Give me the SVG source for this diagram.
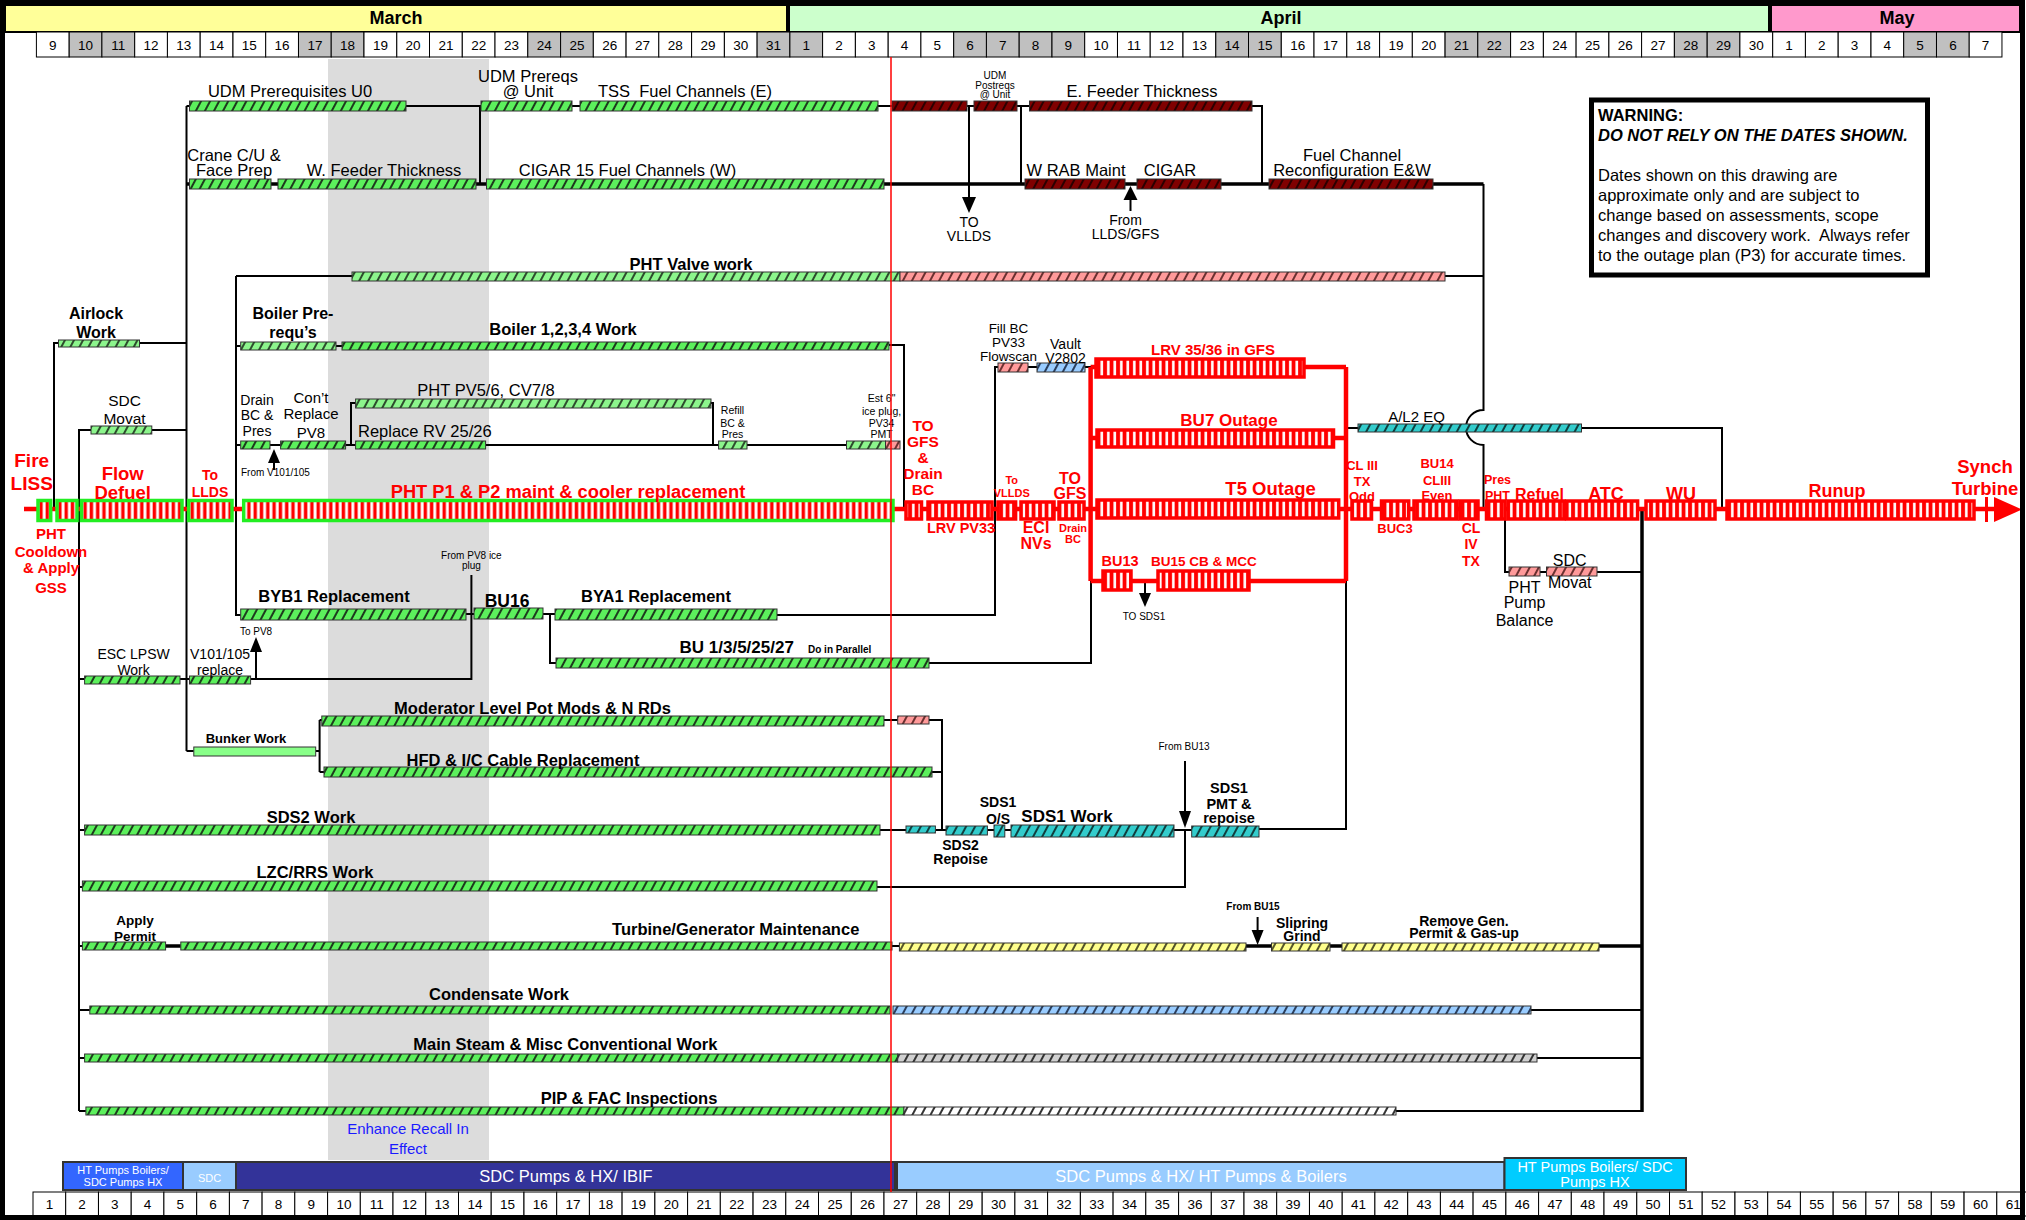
<svg xmlns="http://www.w3.org/2000/svg" width="2026" height="1220" viewBox="0 0 2026 1220">
<defs>
<pattern id="hg" width="8" height="8" patternUnits="userSpaceOnUse" patternTransform="rotate(28)"><rect width="8" height="8" fill="#5cf05c"/><rect width="2" height="8" fill="#1d3b1d"/></pattern>
<pattern id="hl" width="8" height="8" patternUnits="userSpaceOnUse" patternTransform="rotate(28)"><rect width="8" height="8" fill="#8cf58c"/><rect width="2" height="8" fill="#2d4d2d"/></pattern>
<pattern id="hd" width="8" height="8" patternUnits="userSpaceOnUse" patternTransform="rotate(28)"><rect width="8" height="8" fill="#800000"/><rect width="2" height="8" fill="#2b0000"/></pattern>
<pattern id="hp" width="8" height="8" patternUnits="userSpaceOnUse" patternTransform="rotate(28)"><rect width="8" height="8" fill="#ff9a9a"/><rect width="2" height="8" fill="#6b3030"/></pattern>
<pattern id="hb" width="8" height="8" patternUnits="userSpaceOnUse" patternTransform="rotate(28)"><rect width="8" height="8" fill="#99ccff"/><rect width="2" height="8" fill="#2b3f5e"/></pattern>
<pattern id="ht" width="8" height="8" patternUnits="userSpaceOnUse" patternTransform="rotate(28)"><rect width="8" height="8" fill="#33cccc"/><rect width="2" height="8" fill="#0f3f3f"/></pattern>
<pattern id="hy" width="8" height="8" patternUnits="userSpaceOnUse" patternTransform="rotate(28)"><rect width="8" height="8" fill="#ffff8c"/><rect width="2" height="8" fill="#55552a"/></pattern>
<pattern id="hgr" width="8" height="8" patternUnits="userSpaceOnUse" patternTransform="rotate(28)"><rect width="8" height="8" fill="#d0d0d0"/><rect width="2" height="8" fill="#333"/></pattern>
<pattern id="hw" width="8" height="8" patternUnits="userSpaceOnUse" patternTransform="rotate(28)"><rect width="8" height="8" fill="#ffffff"/><rect width="2" height="8" fill="#333"/></pattern>
<pattern id="lr" width="6.5" height="40" patternUnits="userSpaceOnUse"><rect width="6.5" height="40" fill="#ff0000"/><rect x="2" width="2.6" height="40" fill="#ffffff"/></pattern>
<pattern id="lg" width="6.3" height="40" patternUnits="userSpaceOnUse"><rect width="6.3" height="40" fill="#ffffff"/><rect x="1.5" width="3.4" height="40" fill="#ff0000"/></pattern>
</defs>
<style>
text{font-family:"Liberation Sans",Arial,Helvetica,sans-serif;fill:#000}
.m{text-anchor:middle}
.b{font-weight:bold}
.r{font-weight:bold;fill:#ff0000;text-anchor:middle}
.w{fill:#ffffff;text-anchor:middle}
.c{stroke:#000;stroke-width:2;fill:none}
.ck{stroke:#000;stroke-width:3.5;fill:none}
.rl{stroke:#ff0000;stroke-width:4.5;fill:none}
.bar{stroke:#333;stroke-width:1}
.gb{fill:url(#lg);stroke:#22ee22;stroke-width:3.5}
.rb{fill:url(#lr);stroke:#ff0000;stroke-width:3.5}
.cw{fill:#ffffff;stroke:#000;stroke-width:1}
.cg{fill:#c0c0c0;stroke:#000;stroke-width:1}
.d{font-size:13.5px;text-anchor:middle}
.hg{fill:url(#hg)}.hl{fill:url(#hl)}.hd{fill:url(#hd)}.hp{fill:url(#hp)}.hb{fill:url(#hb)}.ht{fill:url(#ht)}.hy{fill:url(#hy)}.hgr{fill:url(#hgr)}.hw{fill:url(#hw)}
</style>
<rect x="0" y="0" width="2026" height="1220" fill="#ffffff"/>
<rect x="328" y="59" width="161" height="1101" fill="#dcdcdc"/>

<g id="header">
<rect x="5" y="5" width="783" height="27" fill="#ffff99" stroke="#000" stroke-width="2"/>
<rect x="788" y="5" width="982" height="27" fill="#ccffcc" stroke="#000" stroke-width="2"/>
<rect x="1770" y="5" width="250" height="27" fill="#ff99cc" stroke="#000" stroke-width="2"/>
<line x1="788" y1="4" x2="788" y2="32" stroke="#000" stroke-width="4"/>
<line x1="1770" y1="4" x2="1770" y2="32" stroke="#000" stroke-width="4"/>
<text x="396" y="24" class="m b" font-size="18">March</text>
<text x="1281" y="24" class="m b" font-size="18">April</text>
<text x="1897" y="24" class="m b" font-size="18">May</text>
<g id="topdays">
<rect x="36.4" y="32" width="32.76" height="25" class="cw"/><text x="52.8" y="49.5" class="d">9</text>
<rect x="69.2" y="32" width="32.76" height="25" class="cg"/><text x="85.5" y="49.5" class="d">10</text>
<rect x="101.9" y="32" width="32.76" height="25" class="cg"/><text x="118.3" y="49.5" class="d">11</text>
<rect x="134.7" y="32" width="32.76" height="25" class="cw"/><text x="151.1" y="49.5" class="d">12</text>
<rect x="167.4" y="32" width="32.76" height="25" class="cw"/><text x="183.8" y="49.5" class="d">13</text>
<rect x="200.2" y="32" width="32.76" height="25" class="cw"/><text x="216.6" y="49.5" class="d">14</text>
<rect x="233" y="32" width="32.76" height="25" class="cw"/><text x="249.3" y="49.5" class="d">15</text>
<rect x="265.7" y="32" width="32.76" height="25" class="cw"/><text x="282.1" y="49.5" class="d">16</text>
<rect x="298.5" y="32" width="32.76" height="25" class="cg"/><text x="314.9" y="49.5" class="d">17</text>
<rect x="331.2" y="32" width="32.76" height="25" class="cg"/><text x="347.6" y="49.5" class="d">18</text>
<rect x="364" y="32" width="32.76" height="25" class="cw"/><text x="380.4" y="49.5" class="d">19</text>
<rect x="396.8" y="32" width="32.76" height="25" class="cw"/><text x="413.1" y="49.5" class="d">20</text>
<rect x="429.5" y="32" width="32.76" height="25" class="cw"/><text x="445.9" y="49.5" class="d">21</text>
<rect x="462.3" y="32" width="32.76" height="25" class="cw"/><text x="478.7" y="49.5" class="d">22</text>
<rect x="495" y="32" width="32.76" height="25" class="cw"/><text x="511.4" y="49.5" class="d">23</text>
<rect x="527.8" y="32" width="32.76" height="25" class="cg"/><text x="544.2" y="49.5" class="d">24</text>
<rect x="560.6" y="32" width="32.76" height="25" class="cg"/><text x="576.9" y="49.5" class="d">25</text>
<rect x="593.3" y="32" width="32.76" height="25" class="cw"/><text x="609.7" y="49.5" class="d">26</text>
<rect x="626.1" y="32" width="32.76" height="25" class="cw"/><text x="642.5" y="49.5" class="d">27</text>
<rect x="658.8" y="32" width="32.76" height="25" class="cw"/><text x="675.2" y="49.5" class="d">28</text>
<rect x="691.6" y="32" width="32.76" height="25" class="cw"/><text x="708" y="49.5" class="d">29</text>
<rect x="724.4" y="32" width="32.76" height="25" class="cw"/><text x="740.7" y="49.5" class="d">30</text>
<rect x="757.1" y="32" width="32.76" height="25" class="cg"/><text x="773.5" y="49.5" class="d">31</text>
<rect x="789.9" y="32" width="32.76" height="25" class="cg"/><text x="806.3" y="49.5" class="d">1</text>
<rect x="822.6" y="32" width="32.76" height="25" class="cw"/><text x="839" y="49.5" class="d">2</text>
<rect x="855.4" y="32" width="32.76" height="25" class="cw"/><text x="871.8" y="49.5" class="d">3</text>
<rect x="888.2" y="32" width="32.76" height="25" class="cw"/><text x="904.5" y="49.5" class="d">4</text>
<rect x="920.9" y="32" width="32.76" height="25" class="cw"/><text x="937.3" y="49.5" class="d">5</text>
<rect x="953.7" y="32" width="32.76" height="25" class="cg"/><text x="970.1" y="49.5" class="d">6</text>
<rect x="986.4" y="32" width="32.76" height="25" class="cg"/><text x="1002.8" y="49.5" class="d">7</text>
<rect x="1019.2" y="32" width="32.76" height="25" class="cg"/><text x="1035.6" y="49.5" class="d">8</text>
<rect x="1052" y="32" width="32.76" height="25" class="cg"/><text x="1068.3" y="49.5" class="d">9</text>
<rect x="1084.7" y="32" width="32.76" height="25" class="cw"/><text x="1101.1" y="49.5" class="d">10</text>
<rect x="1117.5" y="32" width="32.76" height="25" class="cw"/><text x="1133.9" y="49.5" class="d">11</text>
<rect x="1150.2" y="32" width="32.76" height="25" class="cw"/><text x="1166.6" y="49.5" class="d">12</text>
<rect x="1183" y="32" width="32.76" height="25" class="cw"/><text x="1199.4" y="49.5" class="d">13</text>
<rect x="1215.8" y="32" width="32.76" height="25" class="cg"/><text x="1232.1" y="49.5" class="d">14</text>
<rect x="1248.5" y="32" width="32.76" height="25" class="cg"/><text x="1264.9" y="49.5" class="d">15</text>
<rect x="1281.3" y="32" width="32.76" height="25" class="cw"/><text x="1297.7" y="49.5" class="d">16</text>
<rect x="1314" y="32" width="32.76" height="25" class="cw"/><text x="1330.4" y="49.5" class="d">17</text>
<rect x="1346.8" y="32" width="32.76" height="25" class="cw"/><text x="1363.2" y="49.5" class="d">18</text>
<rect x="1379.6" y="32" width="32.76" height="25" class="cw"/><text x="1395.9" y="49.5" class="d">19</text>
<rect x="1412.3" y="32" width="32.76" height="25" class="cw"/><text x="1428.7" y="49.5" class="d">20</text>
<rect x="1445.1" y="32" width="32.76" height="25" class="cg"/><text x="1461.5" y="49.5" class="d">21</text>
<rect x="1477.8" y="32" width="32.76" height="25" class="cg"/><text x="1494.2" y="49.5" class="d">22</text>
<rect x="1510.6" y="32" width="32.76" height="25" class="cw"/><text x="1527" y="49.5" class="d">23</text>
<rect x="1543.4" y="32" width="32.76" height="25" class="cw"/><text x="1559.7" y="49.5" class="d">24</text>
<rect x="1576.1" y="32" width="32.76" height="25" class="cw"/><text x="1592.5" y="49.5" class="d">25</text>
<rect x="1608.9" y="32" width="32.76" height="25" class="cw"/><text x="1625.3" y="49.5" class="d">26</text>
<rect x="1641.6" y="32" width="32.76" height="25" class="cw"/><text x="1658" y="49.5" class="d">27</text>
<rect x="1674.4" y="32" width="32.76" height="25" class="cg"/><text x="1690.8" y="49.5" class="d">28</text>
<rect x="1707.2" y="32" width="32.76" height="25" class="cg"/><text x="1723.5" y="49.5" class="d">29</text>
<rect x="1739.9" y="32" width="32.76" height="25" class="cw"/><text x="1756.3" y="49.5" class="d">30</text>
<rect x="1772.7" y="32" width="32.76" height="25" class="cw"/><text x="1789.1" y="49.5" class="d">1</text>
<rect x="1805.4" y="32" width="32.76" height="25" class="cw"/><text x="1821.8" y="49.5" class="d">2</text>
<rect x="1838.2" y="32" width="32.76" height="25" class="cw"/><text x="1854.6" y="49.5" class="d">3</text>
<rect x="1871" y="32" width="32.76" height="25" class="cw"/><text x="1887.3" y="49.5" class="d">4</text>
<rect x="1903.7" y="32" width="32.76" height="25" class="cg"/><text x="1920.1" y="49.5" class="d">5</text>
<rect x="1936.5" y="32" width="32.76" height="25" class="cg"/><text x="1952.9" y="49.5" class="d">6</text>
<rect x="1969.2" y="32" width="32.76" height="25" class="cw"/><text x="1985.6" y="49.5" class="d">7</text>
</g>
</g>

<g id="connectors">
<path class="c" d="M186.5,106V751M186.5,106H189.5M406,106H481M480,106V184M572,106H580M878,106H892M967,106H974M1017,106H1029.5M1252,106H1262V184M1021,106V184M969,106V199"/>
<polygon points="962,197 976,197 969,213" fill="#000"/>
<path class="ck" d="M186.5,184H189.5M271,184H278M476,184H486.5M884,184H1025M1125,184H1137M1221,184H1269M1433,184H1483.5"/>
<path class="c" d="M1483.5,184V410A17.5,17.5 0 0 0 1483.5,445V509"/>
<path class="c" d="M1130.5,199V211"/>
<polygon points="1130.5,186 1123.5,200 1137.5,200" fill="#000"/>
<path class="c" d="M236,276H352M236,276V615H240.7M1445,276H1483.5M54,509V343H58.5M139.6,343H186.5M236,346H240.7M336,346H342M889,345H904V509M355.6,403H351V445M711,403H713V445M236,445H240.7M270,445H280.6M345.6,445H355.6M485.7,445H718.6M747,445H846.5"/>
<path class="c" d="M274,462V470"/>
<polygon points="274,449 268,463 280,463" fill="#000"/>
<path class="c" d="M79,1111V430H91M151.8,430H186.5M466,614H474M543,614H555M550,614V663H556M471.4,575V679H250.6M180,679H189.5M79,679H84.6M256,679V651"/>
<polygon points="256,637 250,652 262,652" fill="#000"/>
<path class="c" d="M186.5,751H193.8M315.7,751H319.6M319.6,720V772M319.6,720H321.8M319.6,772H324M884,720H897.7M929,720H942V830M932,772H942M79,830H84.6M880,830H906M935.4,830H946M987.4,830H994M1004.8,830H1011M1174,830H1191.7M1259,829H1346V581"/>
<path class="c" d="M1185,761V812M1185,830V887H877M79,887H82.4"/>
<polygon points="1179,811 1191,811 1185,828" fill="#000"/>
<path class="c" d="M79,946H82.4M892,946H899.4M79,1010H89.8M1531,1010H1642M79,1058H84.6M1537,1058H1642M79,1111H85.9M1396,1111H1642"/>
<path class="ck" d="M165.6,946H180.8M1246,946H1271.5M1330,946H1342M1599,946H1642"/>
<path class="c" d="M1257.6,917V931"/>
<polygon points="1251.6,930 1263.6,930 1257.6,945" fill="#000"/>
<path class="ck" d="M1642,509V1112"/>
<path class="c" d="M777,615H995V367H998M1028,367H1037M1085,367H1096M929,663H1091V581M1145,581V594"/>
<polygon points="1139,593 1151,593 1145,607" fill="#000"/>
<path class="c" d="M1346,428H1358M1581.5,428H1722V509M1505,509V572H1509M1540,572H1546.5M1597,572H1642"/>
<path class="rl" d="M24,509H1996" stroke-width="5"/>
<path class="rl" d="M1090.6,367V581M1346,367V581M1090.6,367H1346M1090.6,438H1346M1090.6,581H1346"/>
<polygon points="1994,497 2022,509.5 1994,522" fill="#ff0000"/>
<path d="M1986.5,497V522" stroke="#ff0000" stroke-width="3"/>
</g>

<g id="n-udm-prereq"><rect x="189.5" y="101" width="216.5" height="10" class="bar hg"/><text x="290" y="97" class="m" font-size="16.5">UDM Prerequisites U0</text></g>
<g id="n-udm-unit"><rect x="481" y="101" width="91" height="10" class="bar hg"/><text x="528" y="82" class="m" font-size="16.5">UDM Prereqs</text><text x="528" y="97" class="m" font-size="16.5">@ Unit</text></g>
<g id="n-tss"><rect x="580" y="101" width="298" height="10" class="bar hg"/><text x="685" y="97" class="m" font-size="16.5">TSS&#160; Fuel Channels (E)</text></g>
<g id="n-tss-2"><rect x="892" y="101" width="75" height="10" class="bar hd"/></g>
<g id="n-udm-post"><rect x="974" y="101" width="43" height="10" class="bar hd"/><text x="995" y="79" class="m" font-size="10">UDM</text><text x="995" y="89" class="m" font-size="10">Postreqs</text><text x="995" y="98" class="m" font-size="10">@ Unit</text></g>
<g id="n-efeeder"><rect x="1029.5" y="101" width="222.5" height="10" class="bar hd"/><text x="1142" y="97" class="m" font-size="16.5">E. Feeder Thickness</text></g>
<g id="n-to-vllds"><text x="969" y="227" class="m" font-size="14">TO</text><text x="969" y="241" class="m" font-size="14">VLLDS</text></g>
<g id="n-crane"><rect x="189.5" y="179" width="81.5" height="10" class="bar hg"/><text x="234" y="161" class="m" font-size="16.5">Crane C/U &amp;</text><text x="234" y="176" class="m" font-size="16.5">Face Prep</text></g>
<g id="n-wfeeder"><rect x="278" y="179" width="198" height="10" class="bar hg"/><text x="384" y="176" class="m" font-size="16.5">W. Feeder Thickness</text></g>
<g id="n-cigar15"><rect x="486.5" y="179" width="397.5" height="10" class="bar hg"/><text x="627.5" y="176" class="m" font-size="16.5">CIGAR 15 Fuel Channels (W)</text></g>
<g id="n-wrab"><rect x="1025" y="179" width="100" height="10" class="bar hd"/><text x="1076" y="176" class="m" font-size="16.5">W RAB Maint</text></g>
<g id="n-cigar"><rect x="1137" y="179" width="84" height="10" class="bar hd"/><text x="1170" y="176" class="m" font-size="16.5">CIGAR</text></g>
<g id="n-from-llds"><text x="1125.5" y="225" class="m" font-size="14">From</text><text x="1125.5" y="238.5" class="m" font-size="14">LLDS/GFS</text></g>
<g id="n-fcr"><rect x="1269" y="179" width="164" height="10" class="bar hd"/><text x="1352" y="161" class="m" font-size="16.5">Fuel Channel</text><text x="1352" y="176" class="m" font-size="16.5">Reconfiguration E&amp;W</text></g>
<g id="n-warning"><rect x="1591.5" y="100" width="336" height="175" fill="#fff" stroke="#000" stroke-width="5"/>
<text x="1598" y="121" class="b" font-size="16.5">WARNING:</text>
<text x="1598" y="140.5" class="b" font-size="16.5" font-style="italic">DO NOT RELY ON THE DATES SHOWN.</text>
<text x="1598" y="181" font-size="16.5">Dates shown on this drawing are</text>
<text x="1598" y="201" font-size="16.5">approximate only and are subject to</text>
<text x="1598" y="220.5" font-size="16.5">change based on assessments, scope</text>
<text x="1598" y="241" font-size="16.5">changes and discovery work.&#160; Always refer</text>
<text x="1598" y="261" font-size="16.5">to the outage plan (P3) for accurate times.</text></g>
<g id="n-pht-valve"><rect x="352" y="272" width="548" height="9" class="bar hl"/><rect x="900" y="272" width="545" height="9" class="bar hp"/><text x="691" y="270" class="m b" font-size="16.5">PHT Valve work</text></g>
<g id="n-airlock"><rect x="58.5" y="340" width="81" height="7" class="bar hl"/><text x="96" y="319" class="m b" font-size="16">Airlock</text><text x="96" y="338" class="m b" font-size="16">Work</text></g>
<g id="n-boiler-pre"><rect x="240.7" y="342" width="95.3" height="8" class="bar hl"/><text x="293" y="319" class="m b" font-size="16">Boiler Pre-</text><text x="293" y="338" class="m b" font-size="16">requ’s</text></g>
<g id="n-boiler"><rect x="342" y="342" width="547" height="8" class="bar hg"/><text x="563" y="335" class="m b" font-size="16.5">Boiler 1,2,3,4 Work</text></g>
<g id="n-sdc-movat"><rect x="91" y="426" width="60.8" height="8" class="bar hl"/><text x="124.5" y="406" class="m" font-size="15.5">SDC</text><text x="124.5" y="424" class="m" font-size="15.5">Movat</text></g>
<g id="n-pv56"><rect x="355.6" y="399" width="355.4" height="9" class="bar hl"/><text x="486" y="396" class="m" font-size="16.5">PHT PV5/6, CV7/8</text></g>
<g id="n-drain"><rect x="240.7" y="441" width="29.3" height="8" class="bar hg"/><text x="257" y="405" class="m" font-size="14">Drain</text><text x="257" y="420" class="m" font-size="14">BC &amp;</text><text x="257" y="436" class="m" font-size="14">Pres</text></g>
<g id="n-pv8"><rect x="280.6" y="441" width="65" height="8" class="bar hg"/><text x="311" y="403" class="m" font-size="15">Con’t</text><text x="311" y="419" class="m" font-size="15">Replace</text><text x="311" y="438" class="m" font-size="15">PV8</text></g>
<g id="n-from-v101"><text x="241" y="476" font-size="10">From V101/105</text></g>
<g id="n-rv2526"><rect x="355.6" y="441" width="130" height="8" class="bar hg"/><text x="358" y="437" font-size="16.5">Replace RV 25/26</text></g>
<g id="n-refill"><rect x="718.6" y="441" width="28.4" height="8" class="bar hl"/><text x="732.5" y="414" class="m" font-size="10.5">Refill</text><text x="732.5" y="426.5" class="m" font-size="10.5">BC &amp;</text><text x="732.5" y="438" class="m" font-size="10.5">Pres</text></g>
<g id="n-est6"><rect x="846.5" y="441" width="39" height="8" class="bar hl"/><rect x="885.5" y="441" width="14.5" height="8" class="bar hp"/><text x="881.6" y="402" class="m" font-size="10.5">Est 6"</text><text x="881.6" y="414.5" class="m" font-size="10.5">ice plug,</text><text x="881.6" y="426.5" class="m" font-size="10.5">PV34</text><text x="881.6" y="438" class="m" font-size="10.5">PMT</text></g>

<g id="n-fire"><rect x="38" y="500.5" width="12.7" height="20" class="gb"/><text x="31.7" y="467" class="r" font-size="19">Fire</text><text x="31.7" y="490" class="r" font-size="19">LISS</text></g>
<g id="n-cooldown"><rect x="57" y="500.5" width="20" height="20" class="gb"/><text x="51" y="539" class="r" font-size="15">PHT</text><text x="51" y="556.5" class="r" font-size="15">Cooldown</text><text x="51" y="573" class="r" font-size="15">&amp; Apply</text><text x="51" y="593" class="r" font-size="15">GSS</text></g>
<g id="n-defuel"><rect x="81.5" y="500.5" width="100.5" height="20" class="gb"/><text x="122.7" y="480" class="r" font-size="18.5">Flow</text><text x="122.7" y="498.5" class="r" font-size="18.5">Defuel</text></g>
<g id="n-to-llds"><rect x="188.6" y="500.5" width="43.4" height="20" class="gb"/><text x="210" y="480" class="r" font-size="14">To</text><text x="210" y="496.5" class="r" font-size="14">LLDS</text></g>
<g id="n-pht-p1p2"><rect x="243.7" y="500.5" width="649.3" height="20" class="gb"/><text x="568" y="498" class="r" font-size="18.3">PHT P1 &amp; P2 maint &amp; cooler replacement</text></g>
<g id="n-gfs1"><rect x="906" y="502" width="15.5" height="17" class="rb"/><text x="923" y="430.5" class="r" font-size="15.5">TO</text><text x="923" y="447" class="r" font-size="15.5">GFS</text><text x="923" y="462.5" class="r" font-size="15.5">&amp;</text><text x="923" y="478.5" class="r" font-size="15.5">Drain</text><text x="923" y="494.5" class="r" font-size="15.5">BC</text></g>
<g id="n-lrv-pv33"><rect x="928" y="502" width="64" height="17" class="rb"/><text x="961" y="533" class="r" font-size="14.5">LRV PV33</text></g>
<g id="n-to-vllds2"><rect x="998" y="502" width="17.6" height="17" class="rb"/><text x="1011.7" y="484" class="r" font-size="11">To</text><text x="1011.7" y="496.5" class="r" font-size="11">VLLDS</text></g>
<g id="n-eci"><rect x="1021" y="502" width="33" height="17" class="rb"/><text x="1036" y="533" class="r" font-size="16">ECI</text><text x="1036" y="548.5" class="r" font-size="16">NVs</text></g>
<g id="n-gfs2"><rect x="1059" y="502" width="25" height="17" class="rb"/><text x="1070" y="484" class="r" font-size="16">TO</text><text x="1070" y="499" class="r" font-size="16">GFS</text><text x="1073" y="531.5" class="r" font-size="11">Drain</text><text x="1073" y="543" class="r" font-size="11">BC</text></g>
<g id="n-fill-bc"><rect x="998" y="363" width="30" height="9" class="bar hp"/><text x="1008.5" y="333" class="m" font-size="13.5">Fill BC</text><text x="1008.5" y="347" class="m" font-size="13.5">PV33</text><text x="1008.5" y="360.5" class="m" font-size="13.5">Flowscan</text></g>
<g id="n-vault"><rect x="1037" y="363" width="48" height="9" class="bar hb"/><text x="1065.5" y="349" class="m" font-size="14">Vault</text><text x="1065.5" y="363" class="m" font-size="14">V2802</text></g>
<g id="n-lrv3536"><rect x="1096" y="359" width="208" height="18" class="rb"/><text x="1213" y="355" class="r" font-size="15">LRV 35/36 in GFS</text></g>
<g id="n-bu7"><rect x="1097" y="430" width="236.5" height="17" class="rb"/><text x="1229" y="426" class="r" font-size="17">BU7 Outage</text></g>
<g id="n-t5"><rect x="1097" y="500" width="241.7" height="18" class="rb"/><text x="1270.6" y="495" class="r" font-size="18.5">T5 Outage</text></g>
<g id="n-bu13"><rect x="1103" y="571" width="28" height="19" class="rb"/><text x="1120" y="566" class="r" font-size="14.5">BU13</text></g>
<g id="n-bu15"><rect x="1158" y="571" width="91" height="19" class="rb"/><text x="1204" y="566" class="r" font-size="13.5">BU15 CB &amp; MCC</text></g>
<g id="n-to-sds1"><text x="1144" y="620" class="m" font-size="10">TO SDS1</text></g>
<g id="n-al2"><rect x="1358" y="424" width="223.5" height="8" class="bar ht"/><text x="1416.5" y="421.5" class="m" font-size="15">A/L2 EQ</text></g>
<g id="n-cl3"><rect x="1352" y="501" width="19.5" height="18" class="rb"/><text x="1362" y="470" class="r" font-size="13">CL III</text><text x="1362" y="486" class="r" font-size="13">TX</text><text x="1362" y="501" class="r" font-size="13">Odd</text></g>
<g id="n-buc3"><rect x="1381.5" y="501" width="27.2" height="18" class="rb"/><text x="1395" y="533" class="r" font-size="13">BUC3</text></g>
<g id="n-bu14"><rect x="1414" y="501" width="43" height="18" class="rb"/><text x="1437" y="468" class="r" font-size="13">BU14</text><text x="1437" y="485" class="r" font-size="13">CLIII</text><text x="1437" y="500" class="r" font-size="13">Even</text></g>
<g id="n-cl4"><rect x="1460" y="501" width="18" height="18" class="rb"/><text x="1471" y="533" class="r" font-size="14">CL</text><text x="1471" y="549" class="r" font-size="14">IV</text><text x="1471" y="565.5" class="r" font-size="14">TX</text></g>
<g id="n-pres"><rect x="1486.5" y="501" width="18.5" height="18" class="rb"/><text x="1497.5" y="484" class="r" font-size="12.5">Pres</text><text x="1497.5" y="500" class="r" font-size="12.5">PHT</text></g>
<g id="n-refuel"><rect x="1508" y="501" width="56" height="18" class="rb"/><text x="1539.5" y="500" class="r" font-size="16">Refuel</text></g>
<g id="n-atc"><rect x="1566.6" y="501" width="71" height="18" class="rb"/><text x="1606" y="500" class="r" font-size="18">ATC</text></g>
<g id="n-wu"><rect x="1646" y="501" width="69" height="18" class="rb"/><text x="1681" y="500" class="r" font-size="18">WU</text></g>
<g id="n-runup"><rect x="1727" y="501" width="247" height="18" class="rb"/><text x="1837" y="497" class="r" font-size="18">Runup</text></g>
<g id="n-synch"><text x="1985" y="473" class="r" font-size="18.5">Synch</text><text x="1985" y="495" class="r" font-size="18.5">Turbine</text></g>
<g id="n-pump-bal"><rect x="1509" y="567" width="31" height="9" class="bar hp"/><text x="1524.6" y="592.5" class="m" font-size="16">PHT</text><text x="1524.6" y="608" class="m" font-size="16">Pump</text><text x="1524.6" y="626" class="m" font-size="16">Balance</text></g>
<g id="n-sdc-movat2"><rect x="1546.5" y="567" width="50.5" height="9" class="bar hp"/><text x="1569.7" y="566" class="m" font-size="16">SDC</text><text x="1569.7" y="588" class="m" font-size="16">Movat</text></g>

<g id="n-byb1"><rect x="240.7" y="609" width="225.3" height="11" class="bar hg"/><text x="334" y="602" class="m b" font-size="16.5">BYB1 Replacement</text></g>
<g id="n-bu16"><rect x="474" y="608" width="69" height="11" class="bar hg"/><text x="507" y="607" class="m b" font-size="17.5">BU16</text></g>
<g id="n-bya1"><rect x="555" y="609" width="222" height="11" class="bar hg"/><text x="656" y="602" class="m b" font-size="16.5">BYA1 Replacement</text></g>
<g id="n-bu1"><rect x="556" y="658" width="373" height="10" class="bar hg"/><text x="679.5" y="653" class="b" font-size="17">BU 1/3/5/25/27</text><text x="808" y="653" class="b" font-size="10">Do in Parallel</text></g>
<g id="n-from-pv8"><text x="471.4" y="559" class="m" font-size="10">From PV8 ice</text><text x="471.4" y="569" class="m" font-size="10">plug</text></g>
<g id="n-esc"><rect x="84.6" y="676" width="95.4" height="8" class="bar hg"/><text x="133.6" y="659" class="m" font-size="14">ESC LPSW</text><text x="133.6" y="675" class="m" font-size="14">Work</text></g>
<g id="n-v101"><rect x="189.5" y="676" width="61.1" height="8" class="bar hg"/><text x="220" y="659" class="m" font-size="14">V101/105</text><text x="220" y="675" class="m" font-size="14">replace</text></g>
<g id="n-to-pv8"><text x="256" y="635" class="m" font-size="10">To PV8</text></g>
<g id="n-bunker"><rect x="193.8" y="747" width="121.9" height="9" fill="#88ff88" class="bar"/><text x="246" y="743" class="m b" font-size="13">Bunker Work</text></g>
<g id="n-moderator"><rect x="321.8" y="716" width="562.2" height="10" class="bar hg"/><rect x="897.7" y="716" width="31.3" height="8" class="bar hp"/><text x="532.5" y="714" class="m b" font-size="16.5">Moderator Level Pot Mods &amp; N RDs</text></g>
<g id="n-hfd"><rect x="324" y="767" width="608" height="10" class="bar hg"/><text x="523" y="765.5" class="m b" font-size="16.5">HFD &amp; I/C Cable Replacement</text></g>
<g id="n-sds2"><rect x="84.6" y="825" width="795.4" height="10" class="bar hg"/><rect x="906" y="826" width="29.4" height="7" class="bar ht"/><text x="311" y="822.5" class="m b" font-size="16.5">SDS2 Work</text></g>
<g id="n-sds2-rep"><rect x="946" y="826" width="41.4" height="9" class="bar ht"/><text x="960.5" y="850" class="m b" font-size="14">SDS2</text><text x="960.5" y="864" class="m b" font-size="14">Repoise</text></g>
<g id="n-sds1-os"><rect x="994" y="825" width="10.8" height="12" class="bar ht"/><text x="998" y="807" class="m b" font-size="14">SDS1</text><text x="998" y="824" class="m b" font-size="14">O/S</text></g>
<g id="n-sds1"><rect x="1011" y="825" width="163" height="12" class="bar ht"/><text x="1067" y="821.5" class="m b" font-size="17">SDS1 Work</text></g>
<g id="n-from-bu13"><text x="1184" y="750" class="m" font-size="10">From BU13</text></g>
<g id="n-sds1-pmt"><rect x="1191.7" y="826" width="67.3" height="11" class="bar ht"/><text x="1229" y="793" class="m b" font-size="14.5">SDS1</text><text x="1229" y="809" class="m b" font-size="14.5">PMT &amp;</text><text x="1229" y="822.5" class="m b" font-size="14.5">repoise</text></g>
<g id="n-lzc"><rect x="82.4" y="881" width="794.6" height="10" class="bar hg"/><text x="315" y="878" class="m b" font-size="16.5">LZC/RRS Work</text></g>
<g id="n-apply"><rect x="82.4" y="942" width="83.2" height="8" class="bar hg"/><text x="135" y="925" class="m b" font-size="13.5">Apply</text><text x="135" y="941" class="m b" font-size="13.5">Permit</text></g>
<g id="n-turbine"><rect x="180.8" y="942" width="711.2" height="8" class="bar hg"/><rect x="899.4" y="943" width="346.6" height="8" class="bar hy"/><text x="735.7" y="935" class="m b" font-size="16.5">Turbine/Generator Maintenance</text></g>
<g id="n-from-bu15"><text x="1253" y="910" class="m b" font-size="10">From BU15</text></g>
<g id="n-slipring"><rect x="1271.5" y="943" width="58.5" height="8" class="bar hy"/><text x="1302" y="928" class="m b" font-size="14">Slipring</text><text x="1302" y="941" class="m b" font-size="14">Grind</text></g>
<g id="n-remove-gen"><rect x="1342" y="943" width="257" height="8" class="bar hy"/><text x="1464" y="926" class="m b" font-size="14">Remove Gen.</text><text x="1464" y="938" class="m b" font-size="14">Permit &amp; Gas-up</text></g>
<g id="n-condensate"><rect x="89.8" y="1006" width="800.2" height="8" class="bar hg"/><rect x="893" y="1006" width="638" height="8" class="bar hb"/><text x="499" y="999.5" class="m b" font-size="16.5">Condensate Work</text></g>
<g id="n-main-steam"><rect x="84.6" y="1054" width="813.1" height="8" class="bar hg"/><rect x="897.7" y="1054" width="639.3" height="8" class="bar hgr"/><text x="565.3" y="1049.5" class="m b" font-size="16.5">Main Steam &amp; Misc Conventional Work</text></g>
<g id="n-pip"><rect x="85.9" y="1107" width="818.1" height="8" class="bar hg"/><rect x="904" y="1107" width="492" height="8" class="bar hw"/><text x="629" y="1103.5" class="m b" font-size="16.5">PIP &amp; FAC Inspections</text></g>
<g id="n-recall"><text x="408" y="1134" class="m" font-size="15" style="fill:#1a1aff">Enhance Recall In</text><text x="408" y="1153.5" class="m" font-size="15" style="fill:#1a1aff">Effect</text></g>

<g id="bottom-bars">
<rect x="63" y="1162" width="120" height="28" fill="#3366ff" stroke="#333" stroke-width="2"/>
<text x="123" y="1173.5" class="w" font-size="11">HT Pumps Boilers/</text><text x="123" y="1185.5" class="w" font-size="11">SDC Pumps HX</text>
<rect x="183" y="1162" width="53" height="28" fill="#99ccff" stroke="#333" stroke-width="2"/>
<text x="209.5" y="1182" class="w" font-size="11">SDC</text>
<rect x="236" y="1162" width="659" height="28" fill="#333399" stroke="#333" stroke-width="2"/>
<text x="566" y="1182" class="w" font-size="16.5">SDC Pumps &amp; HX/ IBIF</text>
<rect x="897" y="1162" width="607.5" height="28" fill="#99ccff" stroke="#333" stroke-width="2"/>
<text x="1201" y="1182" class="w" font-size="16.5">SDC Pumps &amp; HX/ HT Pumps &amp; Boilers</text>
<rect x="1504.5" y="1158" width="181.5" height="32" fill="#00ccff" stroke="#333" stroke-width="2"/>
<text x="1595" y="1171.5" class="w" font-size="14.5">HT Pumps Boilers/ SDC</text><text x="1595" y="1186.5" class="w" font-size="14.5">Pumps HX</text>
</g>

<g id="bottomdays">
<rect x="33" y="1192" width="32.73" height="24" class="cw"/><text x="49.4" y="1209" class="d">1</text>
<rect x="65.7" y="1192" width="32.73" height="24" class="cw"/><text x="82.1" y="1209" class="d">2</text>
<rect x="98.5" y="1192" width="32.73" height="24" class="cw"/><text x="114.8" y="1209" class="d">3</text>
<rect x="131.2" y="1192" width="32.73" height="24" class="cw"/><text x="147.6" y="1209" class="d">4</text>
<rect x="163.9" y="1192" width="32.73" height="24" class="cw"/><text x="180.3" y="1209" class="d">5</text>
<rect x="196.7" y="1192" width="32.73" height="24" class="cw"/><text x="213" y="1209" class="d">6</text>
<rect x="229.4" y="1192" width="32.73" height="24" class="cw"/><text x="245.8" y="1209" class="d">7</text>
<rect x="262.1" y="1192" width="32.73" height="24" class="cw"/><text x="278.5" y="1209" class="d">8</text>
<rect x="294.8" y="1192" width="32.73" height="24" class="cw"/><text x="311.2" y="1209" class="d">9</text>
<rect x="327.6" y="1192" width="32.73" height="24" class="cw"/><text x="343.9" y="1209" class="d">10</text>
<rect x="360.3" y="1192" width="32.73" height="24" class="cw"/><text x="376.7" y="1209" class="d">11</text>
<rect x="393" y="1192" width="32.73" height="24" class="cw"/><text x="409.4" y="1209" class="d">12</text>
<rect x="425.8" y="1192" width="32.73" height="24" class="cw"/><text x="442.1" y="1209" class="d">13</text>
<rect x="458.5" y="1192" width="32.73" height="24" class="cw"/><text x="474.9" y="1209" class="d">14</text>
<rect x="491.2" y="1192" width="32.73" height="24" class="cw"/><text x="507.6" y="1209" class="d">15</text>
<rect x="524" y="1192" width="32.73" height="24" class="cw"/><text x="540.3" y="1209" class="d">16</text>
<rect x="556.7" y="1192" width="32.73" height="24" class="cw"/><text x="573.1" y="1209" class="d">17</text>
<rect x="589.4" y="1192" width="32.73" height="24" class="cw"/><text x="605.8" y="1209" class="d">18</text>
<rect x="622.1" y="1192" width="32.73" height="24" class="cw"/><text x="638.5" y="1209" class="d">19</text>
<rect x="654.9" y="1192" width="32.73" height="24" class="cw"/><text x="671.2" y="1209" class="d">20</text>
<rect x="687.6" y="1192" width="32.73" height="24" class="cw"/><text x="704" y="1209" class="d">21</text>
<rect x="720.3" y="1192" width="32.73" height="24" class="cw"/><text x="736.7" y="1209" class="d">22</text>
<rect x="753.1" y="1192" width="32.73" height="24" class="cw"/><text x="769.4" y="1209" class="d">23</text>
<rect x="785.8" y="1192" width="32.73" height="24" class="cw"/><text x="802.2" y="1209" class="d">24</text>
<rect x="818.5" y="1192" width="32.73" height="24" class="cw"/><text x="834.9" y="1209" class="d">25</text>
<rect x="851.3" y="1192" width="32.73" height="24" class="cw"/><text x="867.6" y="1209" class="d">26</text>
<rect x="884" y="1192" width="32.73" height="24" class="cw"/><text x="900.4" y="1209" class="d">27</text>
<rect x="916.7" y="1192" width="32.73" height="24" class="cw"/><text x="933.1" y="1209" class="d">28</text>
<rect x="949.4" y="1192" width="32.73" height="24" class="cw"/><text x="965.8" y="1209" class="d">29</text>
<rect x="982.2" y="1192" width="32.73" height="24" class="cw"/><text x="998.5" y="1209" class="d">30</text>
<rect x="1014.9" y="1192" width="32.73" height="24" class="cw"/><text x="1031.3" y="1209" class="d">31</text>
<rect x="1047.6" y="1192" width="32.73" height="24" class="cw"/><text x="1064" y="1209" class="d">32</text>
<rect x="1080.4" y="1192" width="32.73" height="24" class="cw"/><text x="1096.7" y="1209" class="d">33</text>
<rect x="1113.1" y="1192" width="32.73" height="24" class="cw"/><text x="1129.5" y="1209" class="d">34</text>
<rect x="1145.8" y="1192" width="32.73" height="24" class="cw"/><text x="1162.2" y="1209" class="d">35</text>
<rect x="1178.6" y="1192" width="32.73" height="24" class="cw"/><text x="1194.9" y="1209" class="d">36</text>
<rect x="1211.3" y="1192" width="32.73" height="24" class="cw"/><text x="1227.7" y="1209" class="d">37</text>
<rect x="1244" y="1192" width="32.73" height="24" class="cw"/><text x="1260.4" y="1209" class="d">38</text>
<rect x="1276.7" y="1192" width="32.73" height="24" class="cw"/><text x="1293.1" y="1209" class="d">39</text>
<rect x="1309.5" y="1192" width="32.73" height="24" class="cw"/><text x="1325.8" y="1209" class="d">40</text>
<rect x="1342.2" y="1192" width="32.73" height="24" class="cw"/><text x="1358.6" y="1209" class="d">41</text>
<rect x="1374.9" y="1192" width="32.73" height="24" class="cw"/><text x="1391.3" y="1209" class="d">42</text>
<rect x="1407.7" y="1192" width="32.73" height="24" class="cw"/><text x="1424" y="1209" class="d">43</text>
<rect x="1440.4" y="1192" width="32.73" height="24" class="cw"/><text x="1456.8" y="1209" class="d">44</text>
<rect x="1473.1" y="1192" width="32.73" height="24" class="cw"/><text x="1489.5" y="1209" class="d">45</text>
<rect x="1505.9" y="1192" width="32.73" height="24" class="cw"/><text x="1522.2" y="1209" class="d">46</text>
<rect x="1538.6" y="1192" width="32.73" height="24" class="cw"/><text x="1555" y="1209" class="d">47</text>
<rect x="1571.3" y="1192" width="32.73" height="24" class="cw"/><text x="1587.7" y="1209" class="d">48</text>
<rect x="1604" y="1192" width="32.73" height="24" class="cw"/><text x="1620.4" y="1209" class="d">49</text>
<rect x="1636.8" y="1192" width="32.73" height="24" class="cw"/><text x="1653.1" y="1209" class="d">50</text>
<rect x="1669.5" y="1192" width="32.73" height="24" class="cw"/><text x="1685.9" y="1209" class="d">51</text>
<rect x="1702.2" y="1192" width="32.73" height="24" class="cw"/><text x="1718.6" y="1209" class="d">52</text>
<rect x="1735" y="1192" width="32.73" height="24" class="cw"/><text x="1751.3" y="1209" class="d">53</text>
<rect x="1767.7" y="1192" width="32.73" height="24" class="cw"/><text x="1784.1" y="1209" class="d">54</text>
<rect x="1800.4" y="1192" width="32.73" height="24" class="cw"/><text x="1816.8" y="1209" class="d">55</text>
<rect x="1833.2" y="1192" width="32.73" height="24" class="cw"/><text x="1849.5" y="1209" class="d">56</text>
<rect x="1865.9" y="1192" width="32.73" height="24" class="cw"/><text x="1882.3" y="1209" class="d">57</text>
<rect x="1898.6" y="1192" width="32.73" height="24" class="cw"/><text x="1915" y="1209" class="d">58</text>
<rect x="1931.3" y="1192" width="32.73" height="24" class="cw"/><text x="1947.7" y="1209" class="d">59</text>
<rect x="1964.1" y="1192" width="32.73" height="24" class="cw"/><text x="1980.4" y="1209" class="d">60</text>
<rect x="1996.8" y="1192" width="32.73" height="24" class="cw"/><text x="2013.2" y="1209" class="d">61</text>
</g>

<line id="today" x1="891" y1="57" x2="891" y2="1192" stroke="#ff0000" stroke-width="1.5"/>
<rect x="2.5" y="2" width="2020" height="1215.5" fill="none" stroke="#000" stroke-width="5"/>
</svg>
